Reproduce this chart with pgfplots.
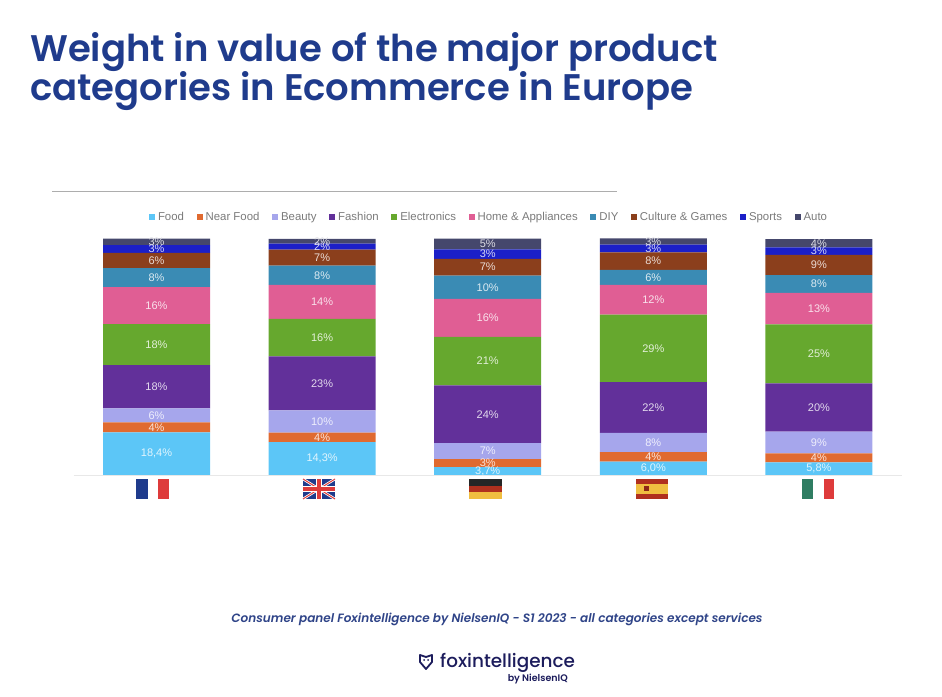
\documentclass[border=0pt]{standalone}
\usepackage{fontspec}
\setmainfont{Liberation Sans}
\newfontfamily\headfont{Poppins}[BoldFont={Poppins SemiBold}]
\newfontfamily\logofont{Poppins Medium}
\usepackage{pgfplots}
\usepackage{pgfplotstable}
\pgfplotsset{compat=1.18}

\definecolor{cFood}{HTML}{5CC6F7}
\definecolor{cNear}{HTML}{E06A30}
\definecolor{cBeauty}{HTML}{A6A6EC}
\definecolor{cFashion}{HTML}{62309A}
\definecolor{cElec}{HTML}{66A82E}
\definecolor{cHome}{HTML}{E05E94}
\definecolor{cDiy}{HTML}{3A8BB4}
\definecolor{cCult}{HTML}{8B3F1C}
\definecolor{cSport}{HTML}{1B1FC8}
\definecolor{cAuto}{HTML}{45476C}
\definecolor{cTitle}{HTML}{1F3B8C}
\definecolor{cNote}{HTML}{2F4488}
\definecolor{cLogo}{HTML}{1C1C5C}
\definecolor{fBlue}{HTML}{1F3B8C}
\definecolor{fRed}{HTML}{DE3B3B}
\definecolor{fGreen}{HTML}{2F7D62}
\definecolor{fGold}{HTML}{F0BE40}
\definecolor{fDark}{HTML}{B0301E}

% x = country (FR UK DE ES IT), v = height, l = printed label
\pgfplotstableread{
x v l
0 18.1 18,4
1 13.9 14,3
2 3.3 3,7
3 5.7 6,0
4 5.4 5,8
}\food
\pgfplotstableread{
x v l
0 4.2 4
1 4.0 4
2 3.4 3
3 4.0 4
4 3.8 4
}\nearfood
\pgfplotstableread{
x v l
0 5.9 6
1 9.5 10
2 6.8 7
3 8.1 8
4 9.2 9
}\beauty
\pgfplotstableread{
x v l
0 18.4 18
1 22.9 23
2 24.5 24
3 21.5 22
4 20.4 20
}\fashion
\pgfplotstableread{
x v l
0 17.3 18
1 15.8 16
2 20.5 21
3 28.6 29
4 25.0 25
}\electronics
\pgfplotstableread{
x v l
0 15.7 16
1 14.4 14
2 16.1 16
3 12.6 12
4 13.4 13
}\home
\pgfplotstableread{
x v l
0 8.1 8
1 8.2 8
2 9.9 10
3 6.4 6
4 7.5 8
}\diy
\pgfplotstableread{
x v l
0 6.4 6
1 6.8 7
2 7.1 7
3 7.4 8
4 8.6 9
}\culture
\pgfplotstableread{
x v l
0 3.3 3
1 2.5 2
2 4.0 3
3 3.3 3
4 3.1 3
}\sports
\pgfplotstableread{
x v l
0 2.7 3
1 2.0 2
2 4.5 5
3 2.7 3
4 3.5 4
}\auto

\newcommand{\stackseries}[2]{%
  \addplot[fill=#1, draw=none,
    nodes near coords style={text=white!82!#1}]
    table[x=x, y=v, meta=l] {#2};}

\begin{document}
\begin{tikzpicture}
\path[use as bounding box] (0,0) rectangle (942pt,696pt);

% ymax just above 100, or the top labels fall out of range and vanish
\begin{axis}[
    at={(73.7pt,221pt)}, anchor=south west,
    width=828pt, height=237.2pt, scale only axis,
    ybar stacked, bar width=107pt,
    xmin=-0.5, xmax=4.5, ymin=0, ymax=100.5,
    axis y line=none, axis x line=bottom,
    axis line style={draw=black!9, -},
    xtick=\empty, ytick=\empty,
    point meta=explicit symbolic,
    nodes near coords={\pgfplotspointmeta\%},
    nodes near coords style={anchor=center, font=\fontsize{11}{11}\selectfont,
      inner sep=0pt},
    legend style={at={(0.5016,1.0877)}, anchor=center, draw=none, fill=none,
      legend columns=10, font=\fontsize{11.4}{11.4}\selectfont, text=black!52,
      /tikz/every even column/.append style={column sep=10.6pt},
      /tikz/every odd column/.append style={column sep=1pt},
      inner sep=0pt},
    legend image code/.code={\fill[#1] (0pt,-3pt) rectangle (6pt,3pt);},
]
\stackseries{cFood}{\food}
\stackseries{cNear}{\nearfood}
\stackseries{cBeauty}{\beauty}
\stackseries{cFashion}{\fashion}
\stackseries{cElec}{\electronics}
\stackseries{cHome}{\home}
\stackseries{cDiy}{\diy}
\stackseries{cCult}{\culture}
\stackseries{cSport}{\sports}
\stackseries{cAuto}{\auto}
\legend{Food,Near Food,Beauty,Fashion,Electronics,Home \& Appliances,DIY,Culture \& Games,Sports,Auto}
\end{axis}

% page furniture, in image pixels measured from the top left
\begin{scope}[x=1pt, y=-1pt, yshift=696pt]
\node[anchor=base west, inner sep=0pt, text=cTitle, font=\headfont\bfseries\fontsize{37}{37}\selectfont] at (30,62) {Weight in value of the major product};
\node[anchor=base west, inner sep=0pt, text=cTitle, font=\headfont\bfseries\fontsize{37}{37}\selectfont] at (30,101) {categories in Ecommerce in Europe};
\draw[black!32, line width=0.8pt] (52,191) -- (617,191);

% flags
\fill[fBlue] (136,479) rectangle (147.5,499);
\fill[fRed] (158,479) rectangle (169,499);

\fill[fBlue] (303,479) rectangle (335,499);
\draw[white, line width=2.5pt] (303,479) -- (335,499) (303,499) -- (335,479);
\draw[fRed, line width=1pt] (303,479) -- (335,499) (303,499) -- (335,479);
\draw[white, line width=6pt] (319,479) -- (319,499) (303,489) -- (335,489);
\draw[fRed, line width=3.5pt] (319,479) -- (319,499) (303,489) -- (335,489);

\fill[black!85] (469,479) rectangle (501.5,485.7);
\fill[fDark] (469,485.7) rectangle (501.5,492.4);
\fill[fGold] (469,492.4) rectangle (501.5,499);

\fill[fDark] (636,479) rectangle (668,499);
\fill[fGold] (636,484) rectangle (668,494);
\fill[fDark!80!black] (644,486.5) rectangle (649,491.5);

\fill[fGreen] (802,479) rectangle (813,499);
\fill[fRed] (823.7,479) rectangle (834.3,499);

% footer
\node[anchor=base, inner sep=0pt, text=cNote, font=\headfont\bfseries\itshape\fontsize{12.05}{12.05}\selectfont] at (497,622) {Consumer panel Foxintelligence by NielsenIQ - S1 2023 - all categories except services};
\draw[cLogo, line width=1.8pt, line join=round] (420,655) -- (426,657) -- (432,655) -- (432,662) -- (426,669) -- (420,662) -- cycle;
\fill[cLogo] (424,660) circle (1pt) (428,660) circle (1pt);
\node[anchor=base west, inner sep=0pt, text=cLogo, font=\logofont\fontsize{18.4}{18.4}\selectfont] at (440,667) {foxintelligence};
\node[anchor=base east, inner sep=0pt, text=cLogo, font=\headfont\bfseries\fontsize{9.5}{9.5}\selectfont] at (568,681) {by NielsenIQ};
\end{scope}
\end{tikzpicture}
\end{document}
